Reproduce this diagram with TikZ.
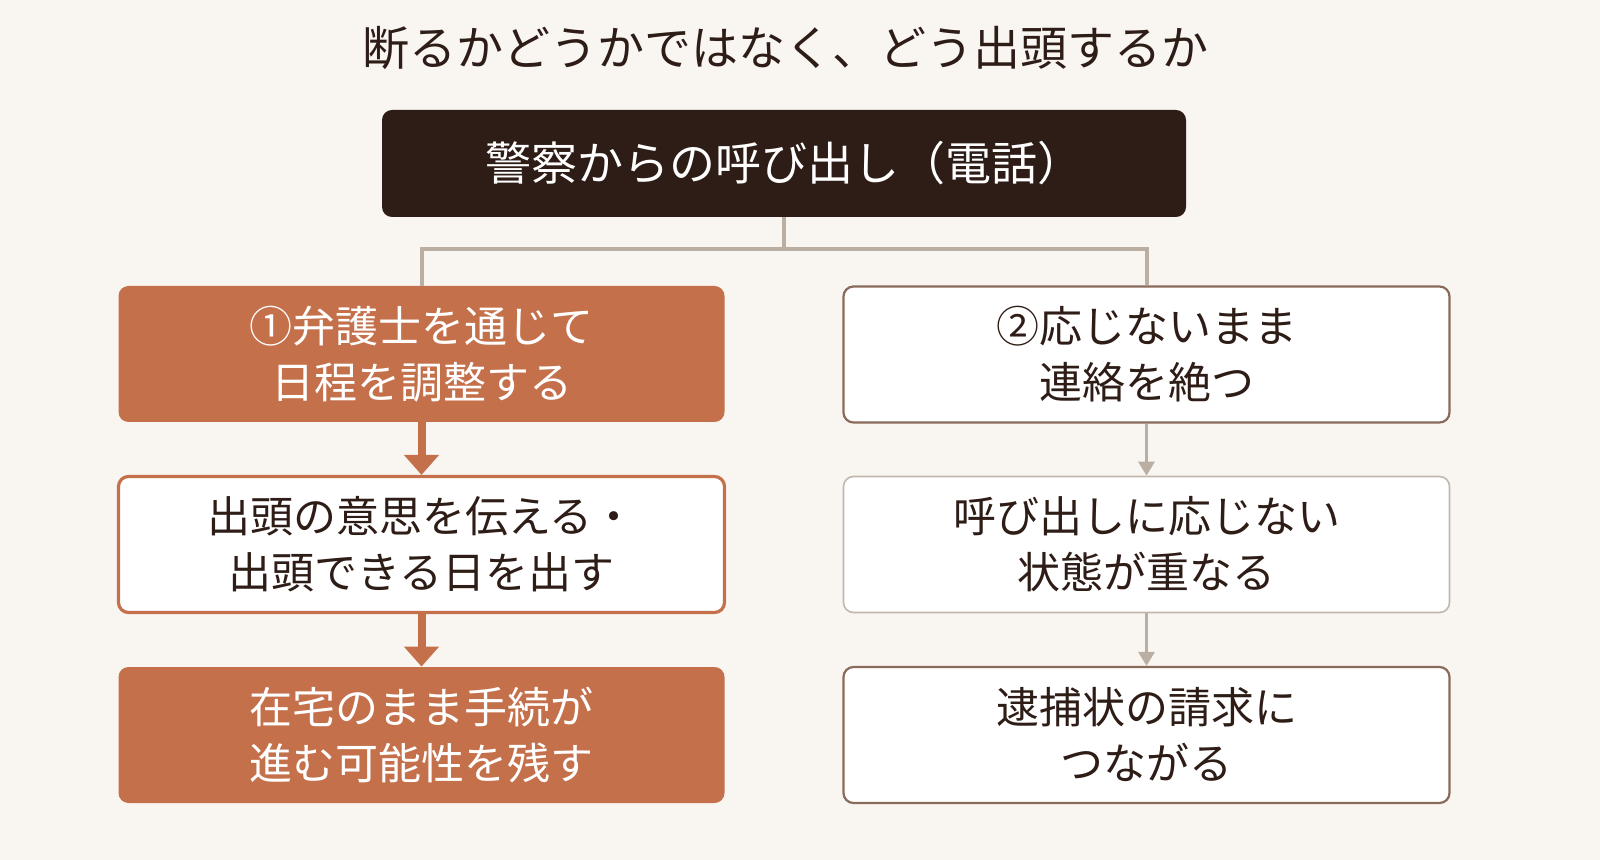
\documentclass[tikz,border=0pt]{standalone}
\usepackage{fontspec}
\setmainfont{Noto Sans CJK JP}
\usetikzlibrary{arrows.meta}
\definecolor{bg}{HTML}{F9F6F2}
\definecolor{dark}{HTML}{2E1C16}
\definecolor{org}{HTML}{C4704B}
\definecolor{brn}{HTML}{8A6A5A}
\definecolor{lgr}{HTML}{C2B6AD}
\definecolor{con}{HTML}{BBAFA4}
\begin{document}
\begin{tikzpicture}[x=0.5pt,y=-0.5pt,
  box/.style={rounded corners=5pt,minimum width=303pt,minimum height=68pt,align=center,font=\fontsize{21.5}{28}\selectfont,inner sep=0pt},
  ofill/.style={box,fill=org,text=white},
  obord/.style={box,fill=white,draw=org,line width=1.6pt,text=dark},
  bbord/.style={box,fill=white,draw=brn,line width=1.1pt,text=dark},
  gbord/.style={box,fill=white,draw=lgr,line width=0.8pt,text=dark},
  oarr/.style={draw=org,line width=4pt,-{Triangle[width=17pt,length=10pt]}},
  garr/.style={draw=con,line width=1.5pt,-{Triangle[width=8pt,length=7pt]}}]
\useasboundingbox (0,0) rectangle (1600,860);
\fill[bg] (0,0) rectangle (1600,860);
\node[text=dark,font=\fontsize{23.5}{26}\selectfont] (title) at (785,48) {断るかどうかではなく、どう出頭するか};
\node[box,fill=dark,text=white,minimum width=402pt,minimum height=53.5pt,font=\fontsize{23}{26}\selectfont] (top) at (784,163.5) {警察からの呼び出し（電話）};
\node[ofill] (l1) at (421.5,354) {①弁護士を通じて\\日程を調整する};
\node[obord] (l2) at (421.5,544.5) {出頭の意思を伝える・\\出頭できる日を出す};
\node[ofill] (l3) at (421.5,735) {在宅のまま手続が\\進む可能性を残す};
\node[bbord] (r1) at (1146.5,354.5) {②応じないまま\\連絡を絶つ};
\node[gbord] (r2) at (1146.5,544.5) {呼び出しに応じない\\状態が重なる};
\node[bbord] (r3) at (1146.5,735) {逮捕状の請求に\\つながる};
\coordinate (j) at (784,249);
\draw[con,line width=2pt] (top.south) -- (j) -| (l1.north);
\draw[con,line width=2pt] (j) -| (r1.north);
\draw[oarr] (l1.south) -- (l2.north);
\draw[oarr] (l2.south) -- (l3.north);
\draw[garr] (r1.south) -- (r2.north);
\draw[garr] (r2.south) -- (r3.north);
\end{tikzpicture}
\end{document}
